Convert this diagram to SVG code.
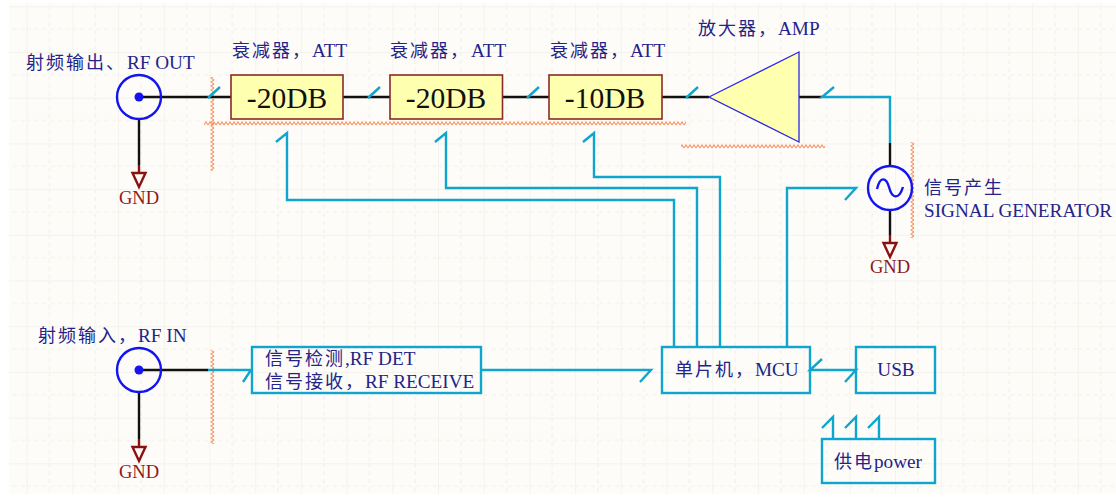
<svg xmlns="http://www.w3.org/2000/svg" width="1116" height="497" viewBox="0 0 1116 497">
<style>
.cn{font-family:"Noto Sans CJK SC",sans-serif;font-size:18px;letter-spacing:2px;fill:#23238a}
.en{font-family:"Liberation Serif",serif;font-size:19.200px;fill:#23238a}
.gnd{font-family:"Liberation Serif",serif;font-size:18.500px;fill:#8b1a1a;text-anchor:middle}
.db{font-family:"Liberation Serif",serif;font-size:29.500px;fill:#111;text-anchor:middle}
.att{fill:#ffffb0;stroke:#8b2a2a;stroke-width:1.6}
.amp{fill:#ffffb0;stroke:#2a2ae0;stroke-width:1.3}
.box{fill:none;stroke:#0ea5cf;stroke-width:2.4}
.w{fill:none;stroke:#0ea5cf;stroke-width:2.4}
.k{fill:none;stroke:#111;stroke-width:2.4}
.r{fill:none;stroke:#8b1010;stroke-width:2.4}
.c{fill:none;stroke:#1414f0;stroke-width:2.4}
</style>
<defs>
<pattern id="grid" patternUnits="userSpaceOnUse" x="26.7" y="6.3" width="45.7" height="45.7">
<path d="M0 0H45.7M0 0V45.7" fill="none" stroke="#f1f0ea" stroke-width="1.4"/>
<path d="M22.85 0V45.7M0 22.85H45.7" fill="none" stroke="#f1f0ea" stroke-width="1.2" stroke-dasharray="4 4"/>
</pattern>
<pattern id="zh" patternUnits="userSpaceOnUse" y="121" width="4" height="5">
<path d="M0 4L2 1L4 4" fill="none" stroke="#f89868" stroke-width="1.2"/>
</pattern>
<pattern id="zh2" patternUnits="userSpaceOnUse" y="144" width="4" height="5">
<path d="M0 4L2 1L4 4" fill="none" stroke="#f89868" stroke-width="1.2"/>
</pattern>
<pattern id="zv" patternUnits="userSpaceOnUse" x="210" width="5" height="4">
<path d="M4 0L1 2L4 4" fill="none" stroke="#f89868" stroke-width="1.2"/>
</pattern>
<pattern id="zv2" patternUnits="userSpaceOnUse" x="910" width="5" height="4">
<path d="M4 0L1 2L4 4" fill="none" stroke="#f89868" stroke-width="1.2"/>
</pattern>
<g id="gndsym"><path class="r" d="M0 0V8"/><path class="r" d="M-6.500 8H6.500L0 22Z"/></g>
</defs>
<rect width="1116" height="497" fill="#ffffff"/>
<rect x="9" y="3" width="1107" height="491" fill="#fdfcf8"/>
<rect x="9" y="3" width="1107" height="491" fill="url(#grid)"/>
<g id="wavy-marks">
<rect x="204" y="121" width="482" height="5" fill="url(#zh)"/>
<rect x="681" y="144" width="144" height="5" fill="url(#zh2)"/>
<rect x="210" y="77" width="5" height="94" fill="url(#zv)"/>
<rect x="910" y="142" width="5" height="96" fill="url(#zv2)"/>
<rect x="210" y="350" width="5" height="94" fill="url(#zv)"/>
</g>
<g id="connectors">
<path class="k" d="M139 97H231M343 97H390M503 97H549M662 97H709M799 97H822M139 119V165M890 143V165M890 210V235M139 393V439M139 370H208"/>
<path class="w" d="M208 98L220 87M368 98L380 87M527 98L539 87M686 98L698 87"/>
<path class="w" d="M834 87L822 97H890V143"/>
<path class="w" d="M276 142L287 133V200H674V347"/>
<path class="w" d="M435 142L446 133V188H697V347"/>
<path class="w" d="M583 142L594 133V177H720V347"/>
<path class="w" d="M787 347V188H856L845 200"/>
<path class="w" d="M208 370H251L243 382"/>
<path class="w" d="M481 370H651L640 382"/>
<path class="w" d="M822 359L810 370H856L845 382"/>
<path class="w" d="M833 439V417L822 428M856 439V417L845 428M879 439V417L868 428"/>
</g>
<g id="rf-out">
<circle class="c" cx="139" cy="97" r="22"/><circle cx="139" cy="97" r="4.500" fill="#1414f0"/>
<text y="69"><tspan class="cn" x="26">射频输出、</tspan><tspan class="en" x="127">RF OUT</tspan></text>
</g>
<g id="gnd-out"><use href="#gndsym" x="139" y="165"/><text class="gnd" x="139" y="204">GND</text></g>
<g id="att-1"><rect class="att" x="231" y="75" width="112" height="44"/><text class="db" x="287" y="108">-20DB</text>
<text y="57"><tspan class="cn" x="232">衰减器，</tspan><tspan class="en" x="312">ATT</tspan></text></g>
<g id="att-2"><rect class="att" x="390" y="75" width="112.500" height="44"/><text class="db" x="446" y="108">-20DB</text>
<text y="57"><tspan class="cn" x="390">衰减器，</tspan><tspan class="en" x="471">ATT</tspan></text></g>
<g id="att-3"><rect class="att" x="549" y="75" width="113" height="44"/><text class="db" x="605" y="108">-10DB</text>
<text y="57"><tspan class="cn" x="550">衰减器，</tspan><tspan class="en" x="630">ATT</tspan></text></g>
<g id="amp"><path class="amp" d="M709 97L799 52V142Z"/>
<text y="35"><tspan class="cn" x="698">放大器，</tspan><tspan class="en" x="778">AMP</tspan></text></g>
<g id="signal-generator">
<circle class="c" cx="890" cy="188" r="22"/>
<path class="c" d="M877 189C880 176 886 177 889 187C892 199 899 200 903 187"/>
<text class="cn" x="924" y="194">信号产生</text>
<text class="en" x="924" y="217">SIGNAL GENERATOR</text>
</g>
<g id="gnd-gen"><use href="#gndsym" x="890" y="235"/><text class="gnd" x="890" y="273">GND</text></g>
<g id="rf-in">
<circle class="c" cx="139" cy="370" r="22"/><circle cx="139" cy="370" r="4.500" fill="#1414f0"/>
<text y="342"><tspan class="cn" x="38">射频输入，</tspan><tspan class="en" x="138">RF IN</tspan></text>
</g>
<g id="gnd-in"><use href="#gndsym" x="139" y="439"/><text class="gnd" x="139" y="478">GND</text></g>
<g id="rf-det"><rect class="box" x="252" y="347" width="229" height="46"/>
<text y="365"><tspan class="cn" x="265">信号检测</tspan><tspan class="en" x="345">,RF DET</tspan></text>
<text y="388"><tspan class="cn" x="265">信号接收，</tspan><tspan class="en" x="365">RF RECEIVE</tspan></text></g>
<g id="mcu"><rect class="box" x="662" y="347" width="148" height="46"/>
<text y="376"><tspan class="cn" x="675">单片机，</tspan><tspan class="en" x="755">MCU</tspan></text></g>
<g id="usb"><rect class="box" x="856" y="347" width="79" height="46"/><text class="en" x="896" y="376" text-anchor="middle">USB</text></g>
<g id="power"><rect class="box" x="822" y="439" width="113" height="44"/>
<text y="468"><tspan class="cn" x="834">供电</tspan><tspan class="en" x="874">power</tspan></text></g>
</svg>
